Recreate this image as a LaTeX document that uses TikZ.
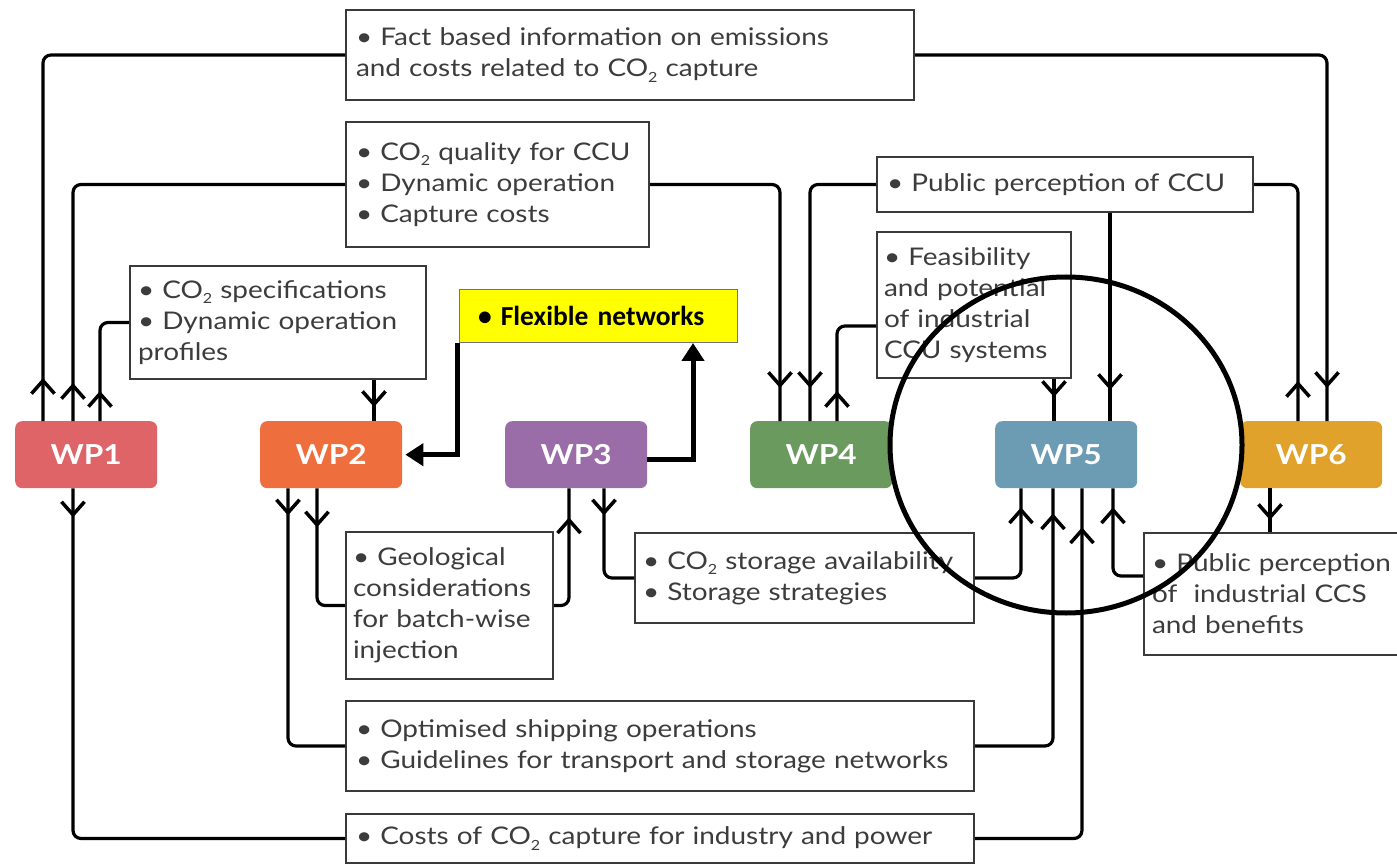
\documentclass[tikz,border=0pt]{standalone}
\usepackage{fontspec}
\setmainfont{Lato}[FakeStretch=1.15]
\newfontfamily\yelfont{Carlito}
\usetikzlibrary{arrows.meta,decorations.markings,calc}
\definecolor{cwpA}{HTML}{DE6468}
\definecolor{cwpB}{HTML}{EE6E3D}
\definecolor{cwpC}{HTML}{9A6CA8}
\definecolor{cwpD}{HTML}{6A9A5D}
\definecolor{cwpE}{HTML}{6C9CB3}
\definecolor{cwpF}{HTML}{E0A22A}
\definecolor{boxline}{HTML}{3A3A3A}
\definecolor{txt}{HTML}{3C3C3C}
\definecolor{yel}{HTML}{FFFF00}
\newcommand{\subtwo}{\raisebox{-0.45ex}{\fontsize{14}{14}\selectfont 2}}
\tikzset{mybarb/.tip={Straight Barb[length=13pt,width=23pt,line width=3.5pt]}}
\begin{document}
\begin{tikzpicture}[x=1pt,y=-1pt,
  box/.style={draw=boxline, line width=2pt, fill=white, inner xsep=10pt, inner ysep=0pt,
    align=left, anchor=north west, text=txt, font=\fontsize{24.3}{31}\selectfont},
  wp/.style={fill=#1, rounded corners=7pt, minimum width=142pt, minimum height=67pt,
    anchor=north west, text=white, font=\fontsize{27.5}{27.5}\selectfont\bfseries, inner sep=0pt},
  conn/.style={line width=3.2pt, rounded corners=8pt, draw=black},
  mk/.style={postaction={decorate, decoration={markings, mark=at position #1 with {\arrow{mybarb}}}}},
  thick arrow/.style={line width=5pt, miter limit=10, -{Triangle[length=18pt,width=22pt]}},
]
\useasboundingbox (0,0) rectangle (1397,866);
\fill[white] (0,0) rectangle (1397,866);

% work packages
\node[wp=cwpA] (wp1) at (15,421) {WP1};
\node[wp=cwpB] (wp2) at (260,421) {WP2};
\node[wp=cwpC] (wp3) at (505,421) {WP3};
\node[wp=cwpD] (wp4) at (750,421) {WP4};
\node[wp=cwpE] (wp5) at (995,421) {WP5};
\node[wp=cwpF] (wp6) at (1240,421) {WP6};

% boxes
\node[box, minimum width=568pt, minimum height=90pt, text width=548pt] (top) at (345,9)
  {• Fact based information on emissions\\and costs related to CO\subtwo{} capture};
\node[box, minimum width=303pt, minimum height=125pt, text width=283pt] (qual) at (345,121)
  {• CO\subtwo{} quality for CCU\\• Dynamic operation\\• Capture costs};
\node[box, minimum width=296pt, minimum height=113pt, text width=280pt, inner xsep=8pt] (spec) at (129,265)
  {• CO\subtwo{} specifications\\• Dynamic operation\\profiles};
\node[draw=black!55, line width=1pt, fill=yel, anchor=north west, minimum width=278pt, minimum height=53pt,
  text width=277pt, inner xsep=0pt, inner ysep=0pt, align=left,
  font=\yelfont\fontsize{27.5}{30}\selectfont\bfseries] (flex) at (459,289)
  {\hspace*{18pt}• Flexible networks};
\node[box, minimum width=376pt, minimum height=55pt, text width=356pt] (ccu) at (876,156)
  {• Public perception of CCU};
\node[box, minimum width=194pt, minimum height=146pt, text width=180pt, inner xsep=7pt] (feas) at (876,231)
  {• Feasibility\\and potential\\of industrial\\CCU systems};
\node[box, minimum width=207pt, minimum height=147pt, text width=193pt, inner xsep=7pt] (geo) at (345,531)
  {• Geological\\considerations\\for batch-wise\\injection};
\node[box, minimum width=339pt, minimum height=90pt, text width=323pt, inner xsep=8pt] (stor) at (634,532)
  {• CO\subtwo{} storage availability\\• Storage strategies};
\node[box, minimum width=628pt, minimum height=90pt, text width=608pt] (ship) at (345,700)
  {• Optimised shipping operations\\• Guidelines for transport and storage networks};
\node[box, minimum width=628pt, minimum height=49pt, text width=608pt] (cost) at (345,813)
  {• Costs of CO\subtwo{} capture for industry and power};
\node[box, minimum width=262pt, minimum height=122pt, text width=246pt, inner xsep=8pt] (ccs) at (1143,532)
  {• Public perception\\of\ \ industrial CCS\\and benefits};

% connectors (upper)
\draw[conn,mk=43pt] ([xshift=28pt]wp1.north west) |- (top.west);
\draw[conn,mk=-33pt] (top.east) -| ([xshift=87pt]wp6.north west);
\draw[conn,mk=38pt] ([xshift=58pt]wp1.north west) |- (qual.west);
\draw[conn,mk=-33pt] (qual.east) -| ([xshift=30pt]wp4.north west);
\draw[conn,mk=30pt] ([xshift=85pt]wp1.north west) |- (spec.west);
\draw[conn,mk=-14pt] ([xshift=245pt]spec.south west) -- ([xshift=114pt]wp2.north west);
\draw[conn,mk=-33pt] (ccu.west) -| ([xshift=60pt]wp4.north west);
\draw[conn,mk=40pt] ([xshift=58pt]wp6.north west) |- (ccu.east);
\draw[conn,mk=-31pt] ([xshift=234pt]ccu.south west) -- ([xshift=115pt]wp5.north west);
\draw[conn,mk=30pt] ([xshift=87pt]wp4.north west) |- ([yshift=-21pt]feas.west);
\draw[conn,mk=-24pt] ([xshift=178pt]feas.south west) -- ([xshift=59pt]wp5.north west);

% connectors (lower)
\draw[conn,mk=29pt] ([xshift=58pt]wp1.south west) |- (cost.west);
\draw[conn,mk=27pt] ([xshift=28pt]wp2.south west) |- (ship.west);
\draw[conn,mk=39pt] ([xshift=57pt]wp2.south west) |- (geo.west);
\draw[conn,mk=-29pt] (geo.east) -| ([xshift=64pt]wp3.south west);
\draw[conn,mk=27pt] ([xshift=99pt]wp3.south west) |- (stor.west);
\draw[conn,mk=-19pt] (stor.east) -| ([xshift=26pt]wp5.south west);
\draw[conn,mk=-25pt] (ship.east) -| ([xshift=58pt]wp5.south west);
\draw[conn,mk=-39pt] (cost.east) -| ([xshift=87pt]wp5.south west);
\draw[conn,mk=-19pt] ([yshift=18pt]ccs.west) -| ([xshift=118pt]wp5.south west);
\draw[conn,mk=-12pt] ([xshift=30pt]wp6.south west) -- ([xshift=127pt]ccs.north west);

% flexible networks arrows
\draw[thick arrow, shorten >=3pt] ([xshift=-2pt]flex.south west) |- (wp2.east);
\draw[thick arrow] ([yshift=-5pt]wp3.east) -| ([xshift=-45pt]flex.south east);

% highlight circle
\draw[line width=5pt] (1066,445) ellipse [x radius=176, y radius=168];
\end{tikzpicture}
\end{document}
